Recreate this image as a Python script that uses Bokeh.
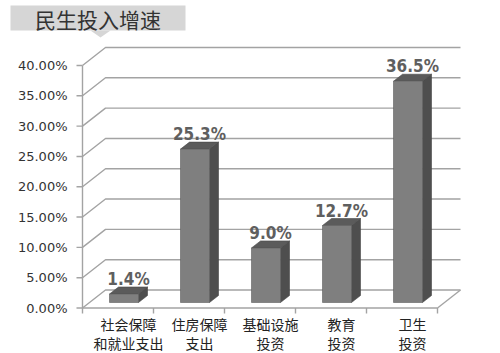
from bokeh.plotting import figure
from bokeh.models import Range1d
from bokeh.embed import file_html
from bokeh.resources import INLINE
from bokeh.core.properties import value

# ---------------- data ----------------
title = "民生投入增速"
categories = ["社会保障\n和就业支出", "住房保障\n支出", "基础设施\n投资", "教育\n投资", "卫生\n投资"]
values = [1.4, 25.3, 9.0, 12.7, 36.5]
value_labels = ["1.4%", "25.3%", "9.0%", "12.7%", "36.5%"]
y_ticks = [0, 5, 10, 15, 20, 25, 30, 35, 40]
y_tick_labels = ["0.00%", "5.00%", "10.00%", "15.00%", "20.00%", "25.00%", "30.00%", "35.00%", "40.00%"]

# ---------------- layout constants ----------------
W, H = 500, 353
X0 = 82.0      # pixel of front axis
CW = 71.0      # pixels per category
Y0 = 307.5     # pixel of 0 %
K = 6.0625     # pixels per percent

def X(px):
    return (px - X0) / CW

def Y(py):
    return (Y0 - py) / K

n = len(categories)
DX, DY = 23 / CW, 18 / K          # floor / wall depth
BW = 29 / CW                      # bar front width
SH = 6 / CW                       # bar shift into depth
BASE = 5.5 / K                    # bar base height (depth shift)
BX, BY = 9 / CW, 7 / K            # bar depth

GRID = "#a3a3a3"

p = figure(width=W, height=H, x_range=Range1d(X(0), X(W)), y_range=Range1d(Y(H), Y(0)),
           output_backend="svg", toolbar_location=None, min_border=0,
           x_axis_location=None, y_axis_location=None)
p.grid.visible = False
p.outline_line_color = None
p.background_fill_color = "white"

# ---------------- title box ----------------
p.quad(left=[X(10)], right=[X(185)], top=[Y(5)], bottom=[Y(30)], fill_color="#d6d6d6", line_color=None)
p.patch(x=[X(90), X(110), X(100)], y=[Y(30), Y(30), Y(37)], fill_color="#d6d6d6", line_color=None)
p.text(x=[X(97.5)], y=[Y(18)], text=[title], text_align="center", text_baseline="middle",
       text_font=value("Noto Sans CJK SC"), text_font_size="21px", text_color="#333333")

# ---------------- walls / gridlines ----------------
gxs, gys = [], []
for t in y_ticks:
    gxs.append([0, DX, n + DX])
    gys.append([t, t + DY, t + DY])
gxs.append([n, n + DX]); gys.append([0, DY])     # floor right edge
gxs.append([0, n]); gys.append([0, 0])           # floor front edge
gxs.append([0, 0]); gys.append([0, y_ticks[-1]])  # front axis
p.multi_line(xs=gxs, ys=gys, line_color=GRID, line_width=1.4)

# y ticks
p.segment(x0=[X(76)] * len(y_ticks), x1=[0] * len(y_ticks), y0=y_ticks, y1=y_ticks,
          line_color=GRID, line_width=1.4)
p.text(x=[X(67)] * len(y_ticks), y=y_ticks, text=y_tick_labels, text_align="right",
       text_baseline="middle", text_font=value("DejaVu Sans"), text_font_size="13px",
       text_color="#333333")

# x ticks
xt = list(range(n + 1))
p.segment(x0=xt, x1=xt, y0=[0] * len(xt), y1=[Y(313)] * len(xt), line_color=GRID, line_width=1.4)

# ---------------- bars ----------------
lefts = [i + (1 - BW) / 2 + SH for i in range(n)]
rights = [l + BW for l in lefts]
tops = [BASE + v for v in values]

front_x, front_y, side_x, side_y, top_x, top_y = [], [], [], [], [], []
for l, r, t in zip(lefts, rights, tops):
    front_x.append([l, r, r, l]); front_y.append([BASE, BASE, t, t])
    side_x.append([r, r + BX, r + BX, r]); side_y.append([BASE, BASE + BY, t + BY, t])
    top_x.append([l, r, r + BX, l + BX]); top_y.append([t, t, t + BY, t + BY])

p.patches(xs=side_x, ys=side_y, fill_color="#4e4e4e", line_color="#444444", line_width=0.6)
p.patches(xs=top_x, ys=top_y, fill_color="#5b5b5b", line_color="#4a4a4a", line_width=0.6)
p.patches(xs=front_x, ys=front_y, fill_color="#7f7f7f", line_color="#5e5e5e", line_width=0.6)

centers = [(l + r + BX) / 2 for l, r in zip(lefts, rights)]
p.text(x=centers, y=[t + BY + 8 / K for t in tops], text=value_labels, text_align="center",
       text_baseline="alphabetic",
       text_font=value("'DejaVu Sans Condensed', 'Liberation Sans', sans-serif"),
       text_font_style="bold", text_font_size="17px", text_color="#5f5f5f")

# category labels (two lines each)
line1 = [c.split("\n")[0] for c in categories]
line2 = [c.split("\n")[1] for c in categories]
p.text(x=centers, y=[Y(323)] * n, text=line1, text_align="center", text_baseline="middle",
       text_font=value("Noto Sans CJK SC"), text_font_size="14px", text_color="#222222")
p.text(x=centers, y=[Y(342)] * n, text=line2, text_align="center", text_baseline="middle",
       text_font=value("Noto Sans CJK SC"), text_font_size="14px", text_color="#222222")

open("out.html", "w").write(file_html(p, INLINE))
